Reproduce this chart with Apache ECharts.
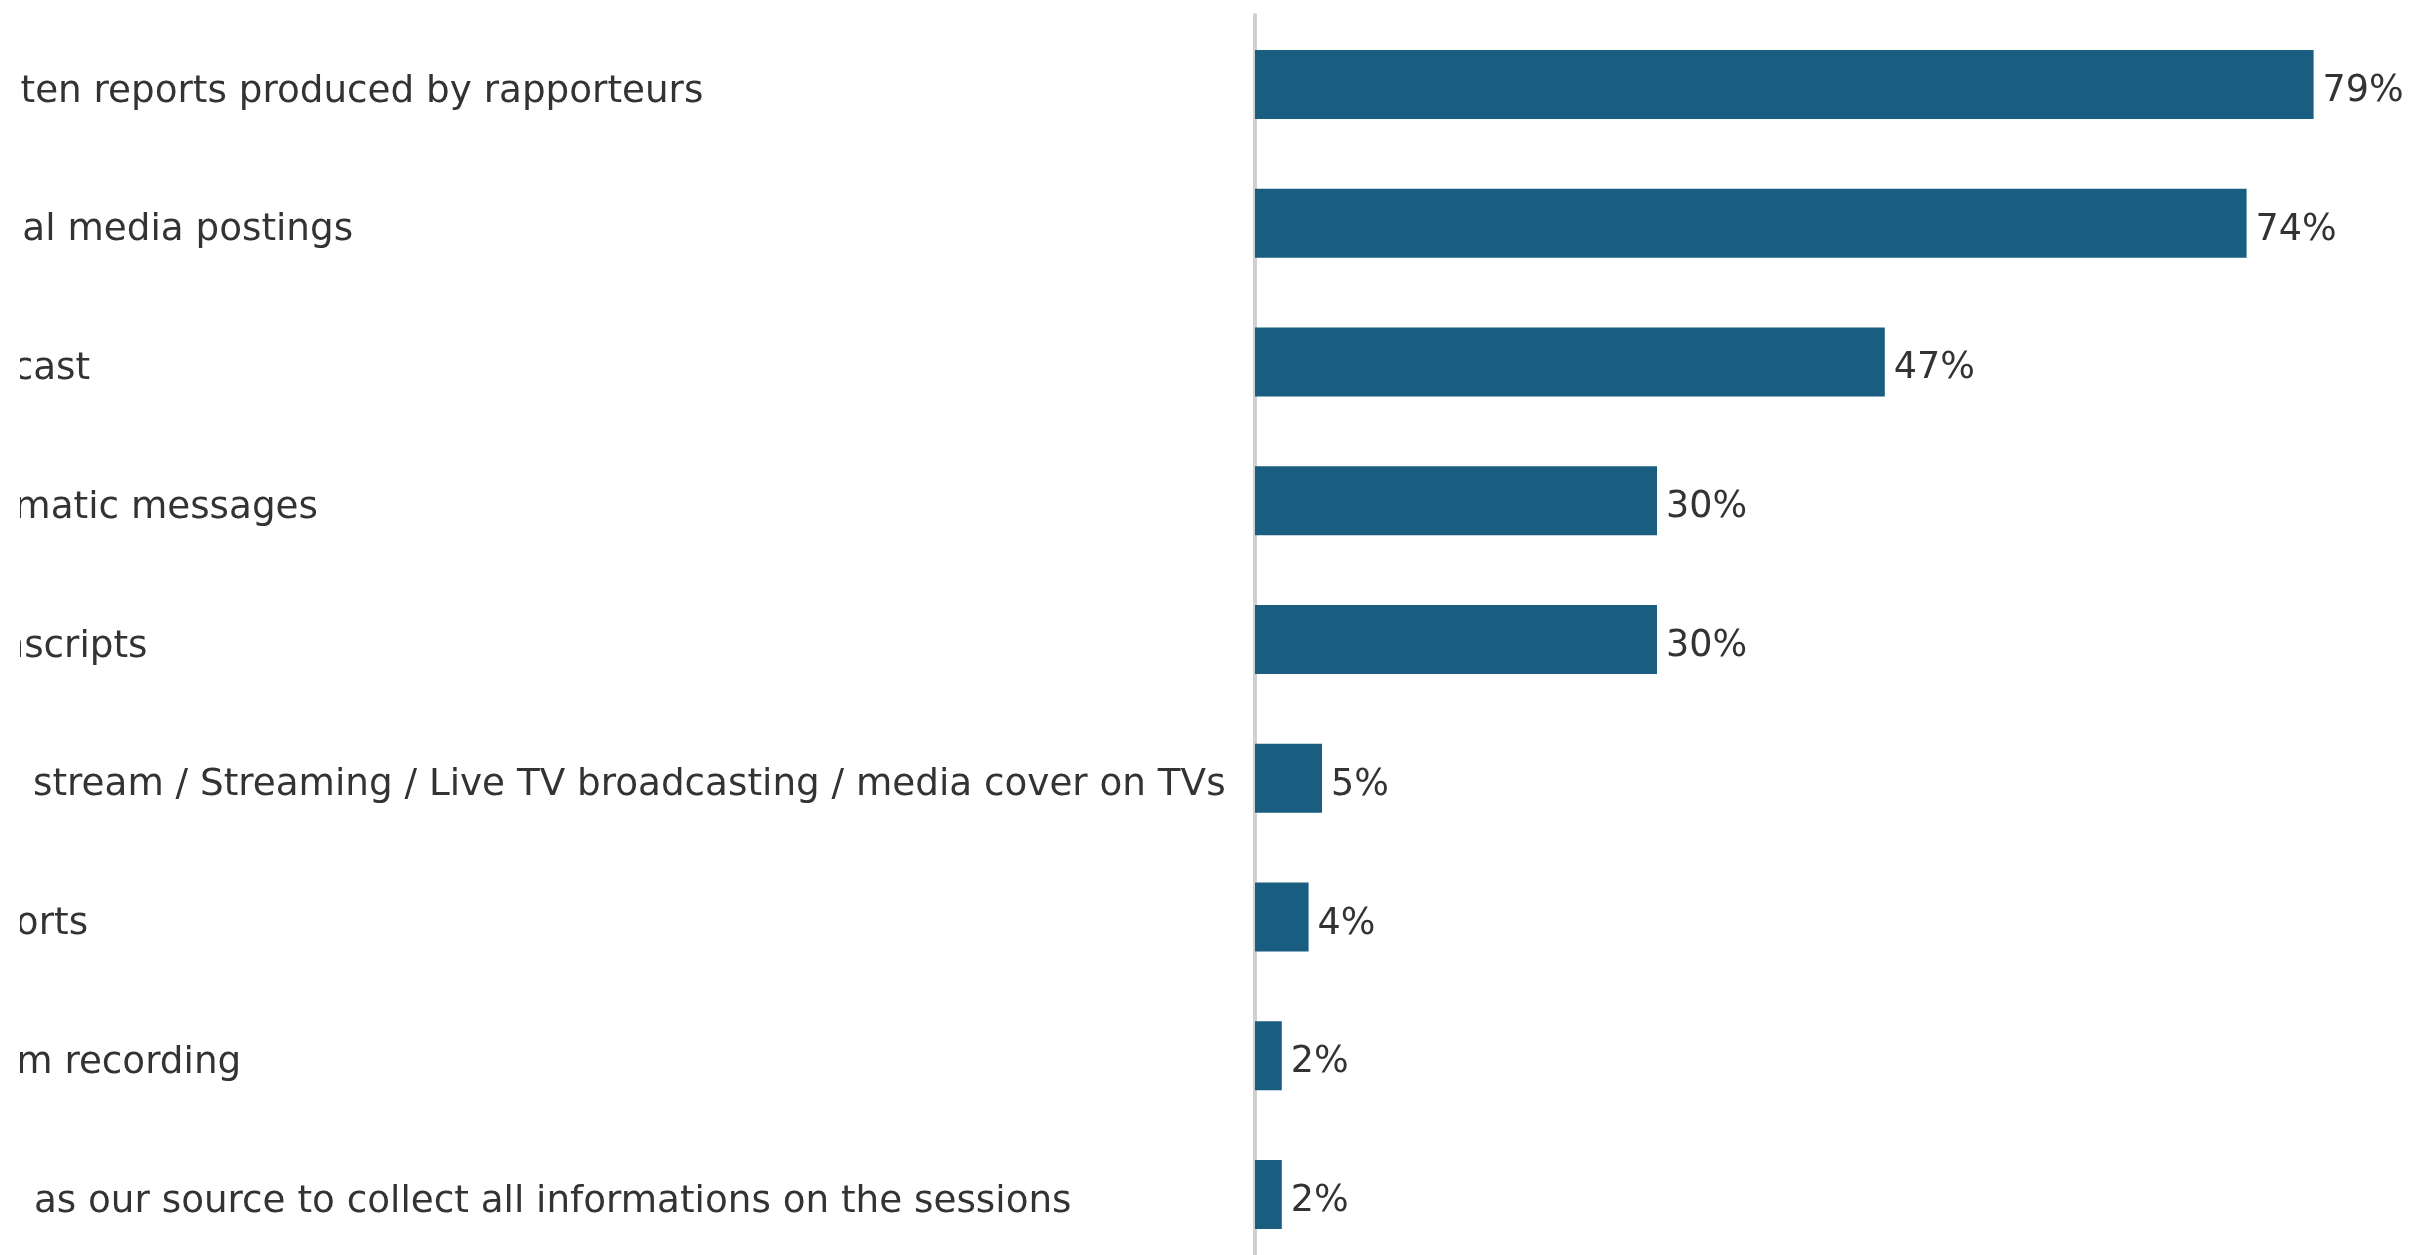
<!DOCTYPE html>
<html>
<head>
<meta charset="utf-8">
<script src="https://cdn.jsdelivr.net/npm/echarts@6/dist/echarts.min.js"></script>
<style>
html,body{margin:0;padding:0;background:#fff;overflow:hidden;}
#chart{position:absolute;left:20px;top:0;width:2392px;height:1255px;}
</style>
</head>
<body>
<div id="chart"></div>
<script>
const categories = [
  "Written reports produced by rapporteurs",
  "Social media postings",
  "Podcast",
  "Thematic messages",
  "Transcripts",
  "Live stream / Streaming / Live TV broadcasting / media cover on TVs",
  "Reports",
  "Zoom recording",
  "ENB as our source to collect all informations on the sessions"
];
const values = [79, 74, 47, 30, 30, 5, 4, 2, 2];

const chart = echarts.init(document.getElementById('chart'));
chart.setOption({
  animation: false,
  grid: { left: 1235, right: 85, top: 15, bottom: -9, containLabel: false, outerBoundsMode: 'none' },
  xAxis: {
    type: 'value', min: 0, max: 80,
    show: false,
    splitLine: { show: false }
  },
  yAxis: {
    type: 'category',
    data: categories,
    inverse: true,
    axisLine: { show: true, lineStyle: { color: '#d0d0d0', width: 4 } },
    axisTick: { show: false },
    axisLabel: {
      interval: 0,
      align: 'left',
      margin: 1310,
      formatter: function (v) { return '{t|' + v + '}'; },
      rich: {
        t: {
          fontFamily: 'DejaVu Sans',
          fontSize: 37.3,
          color: '#333333',
          padding: [15, 0, 0, 0]
        }
      }
    }
  },
  series: [{
    type: 'bar',
    data: values,
    barWidth: 69,
    itemStyle: { color: '#195e80' },
    label: {
      show: true,
      position: 'right',
      distance: 9,
      offset: [0, 7],
      formatter: '{c}%',
      fontFamily: 'DejaVu Sans',
      fontSize: 36.5,
      color: '#333333'
    }
  }]
});
</script>
</body>
</html>
